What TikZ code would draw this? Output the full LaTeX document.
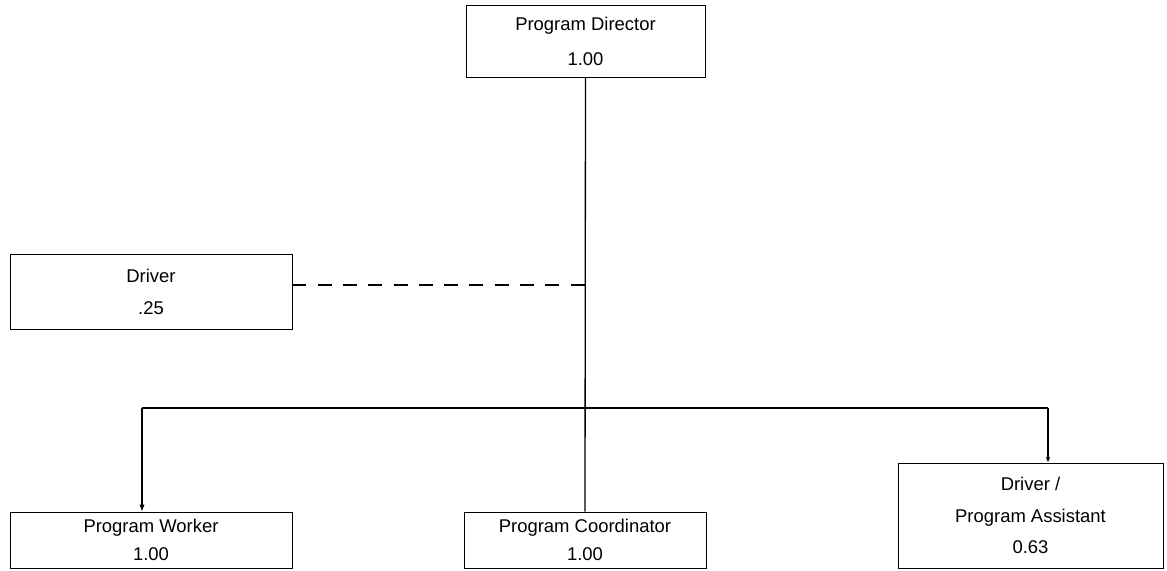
\documentclass[tikz,border=0pt]{standalone}
\usepackage{fontspec}
\setmainfont{Liberation Sans}
\usetikzlibrary{arrows.meta}

\tikzset{
  staffbox/.style={draw, thin, align=center, inner sep=0pt,
    font=\fontsize{10.5}{18}\selectfont},
  link/.style={line width=0.75pt}
}

\begin{document}
\begin{tikzpicture}[x=0.02cm, y=-0.02cm]
    \useasboundingbox (0,0) rectangle (1167,571);
    \node[staffbox, minimum width=4.78cm, minimum height=1.44cm] (director) at (585.5,41) {Program Director\\[2pt] 1.00};
    \node[staffbox, minimum width=5.64cm, minimum height=1.5cm] (driver) at (151,292) {Driver\\ .25};
    \node[staffbox, minimum width=5.64cm, minimum height=1.12cm] (worker) at (151,540) {Program Worker\\[-2pt] 1.00};
    \node[staffbox, minimum width=4.84cm, minimum height=1.12cm] (coordinator) at (585,540) {Program Coordinator\\[-2pt] 1.00};
    \node[staffbox, minimum width=5.3cm, minimum height=2.1cm] (assistant) at (1030.5,515.5) {Driver /\\ Program Assistant\\ 0.63};
    \coordinate (dl) at (585,285);
    \coordinate (bl) at (142,408);
    \coordinate (br) at (1048,408);
    \draw[link] (director.south) -- (coordinator.north);
    \draw[link, dash pattern=on 8pt off 6.4pt] (dl -| driver.east) -- (dl);
    \draw[link] (bl) -- (br);
    \draw[link, -{Latex[length=4pt,width=3pt]}] (bl) -- (bl |- worker.north);
    \draw[link, -{Latex[length=3pt,width=2.5pt]}] (br) -- (br |- assistant.north);
  \end{tikzpicture}
\end{document}
